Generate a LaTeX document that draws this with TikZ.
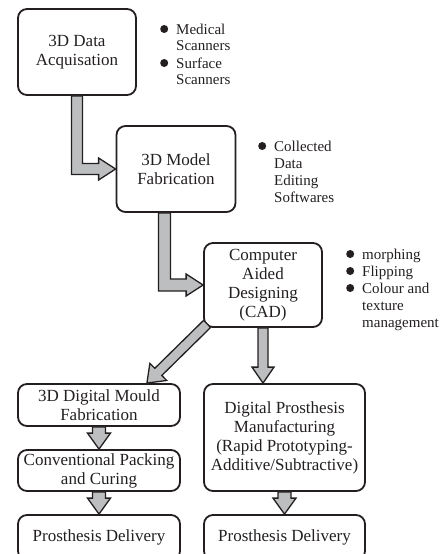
\documentclass[tikz,border=0pt]{standalone}
\usepackage{fontspec}
\setmainfont{Liberation Serif}
\usetikzlibrary{calc}
\definecolor{ink}{HTML}{231F20}
\definecolor{arrowgrey}{HTML}{BCBEC0}
% bullet and hanging indent for the side notes
\newcommand\bulletmark{\makebox[16pt][l]{\raisebox{1pt}{\tikz\fill[ink] (0,0) circle (4pt);}}}
\newcommand\hangpad{\hspace*{16pt}}
\begin{document}
\begin{tikzpicture}[x=1pt,y=-1pt,
  stage/.style={draw=ink, line width=1.8pt, rounded corners=9pt, align=center,
    inner sep=0pt, text=ink, font=\fontsize{17}{19}\selectfont},
  fat/.style={draw=ink, fill=arrowgrey, line width=1.3pt, line join=miter},
  notes/.style={anchor=base west, inner sep=0pt, text=ink,
    font=\fontsize{15}{17}\selectfont}]
\useasboundingbox (0,0) rectangle (442,554);
\clip (0,0) rectangle (442,554);

% process stages
\node[stage, minimum width=118pt, minimum height=86pt] (acq) at (77,52) {3D Data\\Acquisation};
\node[stage, minimum width=119pt, minimum height=86pt] (model) at (176,169) {3D Model\\Fabrication};
\node[stage, minimum width=118pt, minimum height=84pt] (cad) at (263,285) {Computer\\Aided\\Designing\\(CAD)};
\node[stage, minimum width=162pt, minimum height=42pt] (mould) at (99,405) {3D Digital Mould\\Fabrication};
\node[stage, minimum width=162pt, minimum height=41pt] (pack) at (99,470.5) {Conventional Packing\\and Curing};
\node[stage, minimum width=162pt, minimum height=45pt] (deliverL) at (99,537.5) {Prosthesis Delivery};
\node[stage, minimum width=161pt, minimum height=107pt] (digital) at (284.5,437.5) {Digital Prosthesis\\Manufacturing\\(Rapid Prototyping-\\Additive/Subtractive)};
\node[stage, minimum width=161pt, minimum height=45pt] (deliverR) at (284.5,537.5) {Prosthesis Delivery};

% side notes
\node[notes] (scanners) at (160,34) {\begin{tabular}[t]{@{}l@{}}
  \bulletmark Medical\\ \hangpad Scanners\\ \bulletmark Surface\\ \hangpad Scanners\end{tabular}};
\node[notes] (editing) at (258,151) {\begin{tabular}[t]{@{}l@{}}
  \bulletmark Collected\\ \hangpad Data\\ \hangpad Editing\\ \hangpad Softwares\end{tabular}};
\node[notes] (design) at (346,259) {\begin{tabular}[t]{@{}l@{}}
  \bulletmark morphing\\ \bulletmark Flipping\\ \bulletmark Colour and\\ \hangpad texture\\ \hangpad management\end{tabular}};

% elbow arrows
\draw[fat] ($(acq.south)+(-5.5,0)$) |- ($(model.west)+(-17,5.5)$) -- ++(0,5.5)
  -- (model.west) -- ++(-17,-11) -- ++(0,5.5) -| ($(acq.south)+(5.5,0)$) -- cycle;
\draw[fat] ($(model.south)+(-17.5,0)$) |- ($(cad.west)+(-17,6)$) -- ++(0,5)
  -- (cad.west) -- ++(-17,-11) -- ++(0,5) -| ($(model.south)+(-5.5,0)$) -- cycle;

% diagonal arrow from the CAD corner
\coordinate (s3) at ($(cad.south west)+(4,-4)$);
\coordinate (t3) at ($(mould.north east)+(-34,0)$);
\coordinate (h3) at ($(t3)!16pt!(s3)$);
\draw[fat] ($(s3)!5pt!90:(t3)$) -- ($(h3)!5pt!90:(t3)$) -- ($(h3)!12pt!90:(t3)$)
  -- (t3) -- ($(h3)!12pt!-90:(t3)$) -- ($(h3)!5pt!-90:(t3)$) -- ($(s3)!5pt!-90:(t3)$) -- cycle;

% straight down arrows
\draw[fat] ($(cad.south)+(-5,0)$) -- ($(cad.south |- digital.north)+(-5,-16)$) -- ++(-6,0)
  -- (cad.south |- digital.north) -- ++(11,-16) -- ++(-6,0) -- ($(cad.south)+(5,0)$) -- cycle;
\draw[fat] ($(mould.south)+(-6.5,0)$) -- ($(pack.north)+(-6.5,-16)$) -- ++(-5,0)
  -- (pack.north) -- ++(11.5,-16) -- ++(-5,0) -- ($(mould.south)+(6.5,0)$) -- cycle;
\draw[fat] ($(pack.south)+(-6.5,0)$) -- ($(deliverL.north)+(-6.5,-16)$) -- ++(-5,0)
  -- (deliverL.north) -- ++(11.5,-16) -- ++(-5,0) -- ($(pack.south)+(6.5,0)$) -- cycle;
\draw[fat] ($(digital.south)+(-6.5,0)$) -- ($(deliverR.north)+(-6.5,-16)$) -- ++(-5,0)
  -- (deliverR.north) -- ++(11.5,-16) -- ++(-5,0) -- ($(digital.south)+(6.5,0)$) -- cycle;
\end{tikzpicture}
\end{document}
